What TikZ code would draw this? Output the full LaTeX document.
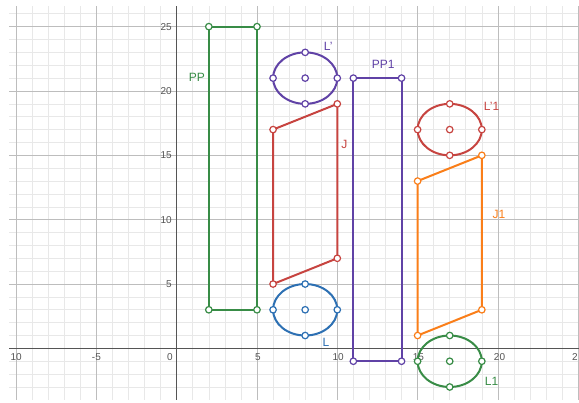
\documentclass[tikz,border=0pt]{standalone}
\usepackage{fontspec}
\setmainfont{Liberation Sans}
\usetikzlibrary{calc}
\definecolor{dgreen}{HTML}{388C46}
\definecolor{dpurple}{HTML}{6042A6}
\definecolor{dred}{HTML}{C74440}
\definecolor{dblue}{HTML}{2D70B3}
\definecolor{dorange}{HTML}{FA7E19}
\definecolor{minorgrid}{HTML}{E8E8E8}
\definecolor{majorgrid}{HTML}{BDBDBD}
\definecolor{axiscol}{HTML}{555555}
\begin{document}
\begin{tikzpicture}[x=16.06pt,y=12.87pt,
  pt/.style={circle, draw=#1, fill=white, line width=1.2pt, inner sep=0pt, minimum size=6.5pt},
  shp/.style={line width=2pt, line join=round},
  lbl/.style={font=\fontsize{12}{12}\selectfont},
  tick/.style={font=\fontsize{10}{10}\selectfont, text=axiscol, inner sep=0pt},
  minorline/.style={draw=minorgrid, line width=0.6pt},
  majorline/.style={draw=majorgrid, line width=0.8pt},
  axisline/.style={draw=axiscol, line width=1pt}]
\useasboundingbox (-11.003,-4.242) rectangle (25.05,27.07);
\fill[white] (-11.003,-4.242) rectangle (25.05,27.07);
\begin{scope}
  \clip (-10.44,-4.01) rectangle (25.05,26.53);
  \foreach \i in {-11,...,26} \draw[minorline] (\i,-5) -- (\i,28);
  \foreach \j in {-5,...,28} \draw[minorline] (-12,\j) -- (26,\j);
  \foreach \i in {-10,-5,5,10,15,20,25} \draw[majorline] (\i,-5) -- (\i,28);
  \foreach \j in {5,10,15,20,25} \draw[majorline] (-12,\j) -- (26,\j);
  \draw[axisline] (0,-5) -- (0,28);
  \draw[axisline] (-12,0) -- (26,0);
\end{scope}
% tick labels
\node[tick] (tx1) at (-10.0,-0.67) {10};
\node[tick] (tx2) at (-5.0,-0.67) {-5};
\node[tick] (tx3) at (-0.42,-0.67) {0};
\node[tick] (tx4) at (5.05,-0.67) {5};
\node[tick] (tx5) at (10.05,-0.67) {10};
\node[tick] (tx6) at (15.05,-0.67) {15};
\node[tick] (tx7) at (20.1,-0.67) {20};
\node[tick] (tx8) at (24.8,-0.67) {2};
\foreach \v in {5,10,15,20,25} \node[tick, anchor=east] (ty\v) at (-0.3,\v) {\v};

% PP
\coordinate (pp1) at (2,3); \coordinate (pp2) at (2,25);
\coordinate (pp3) at (5,25); \coordinate (pp4) at (5,3);
\draw[shp, dgreen] (pp1) -- (pp2) -- (pp3) -- (pp4) -- cycle;
% PP1
\coordinate (qa) at (11,-1); \coordinate (qb) at (11,21);
\coordinate (qc) at (14,21); \coordinate (qd) at (14,-1);
\draw[shp, dpurple] (qa) -- (qb) -- (qc) -- (qd) -- cycle;
% J
\coordinate (ja) at (6,5); \coordinate (jb) at (10,7);
\coordinate (jc) at (10,19); \coordinate (jd) at (6,17);
\draw[shp, dred] (ja) -- (jb) -- (jc) -- (jd) -- cycle;
% J1
\coordinate (ka) at (15,1); \coordinate (kb) at (19,3);
\coordinate (kc) at (19,15); \coordinate (kd) at (15,13);
\draw[shp, dorange] (ka) -- (kb) -- (kc) -- (kd) -- cycle;
% circles
\coordinate (lpc) at (8,21);
\coordinate (lc) at (8,3);
\coordinate (l1pc) at (17,17);
\coordinate (l1c) at (17,-1);
\draw[shp, dpurple] (lpc) ellipse [x radius=32.12pt, y radius=25.74pt];
\draw[shp, dblue] (lc) ellipse [x radius=32.12pt, y radius=25.74pt];
\draw[shp, dred] (l1pc) ellipse [x radius=32.12pt, y radius=25.74pt];
\draw[shp, dgreen] (l1c) ellipse [x radius=32.12pt, y radius=25.74pt];

% points
\foreach \p in {pp1,pp2,pp3,pp4} \node[pt=dgreen] at (\p) {};
\foreach \p in {qa,qb,qc,qd} \node[pt=dpurple] at (\p) {};
\foreach \p in {ja,jb,jc,jd} \node[pt=dred] at (\p) {};
\foreach \p in {ka,kb,kc,kd} \node[pt=dorange] at (\p) {};
\foreach \dx/\dy in {0/0,2/0,-2/0,0/2,0/-2} {
  \node[pt=dpurple] at ($(lpc)+(\dx,\dy)$) {};
  \node[pt=dblue] at ($(lc)+(\dx,\dy)$) {};
  \node[pt=dred] at ($(l1pc)+(\dx,\dy)$) {};
  \node[pt=dgreen] at ($(l1c)+(\dx,\dy)$) {};
}

% labels
\node[lbl, text=dgreen] (lblPP) at (1.25,21.03) {PP};
\node[lbl, text=dpurple] (lblLp) at (9.44,23.5) {L'};
\node[lbl, text=dpurple] (lblPP1) at (12.86,22.07) {PP1};
\node[lbl, text=dred] (lblJ) at (10.44,15.86) {J};
\node[lbl, text=dred] (lblL1p) at (19.61,18.78) {L'1};
\node[lbl, text=dorange] (lblJ1) at (20.07,10.37) {J1};
\node[lbl, text=dblue] (lblL) at (9.30,0.47) {L};
\node[lbl, text=dgreen] (lblL1) at (19.61,-2.56) {L1};
\end{tikzpicture}
\end{document}
